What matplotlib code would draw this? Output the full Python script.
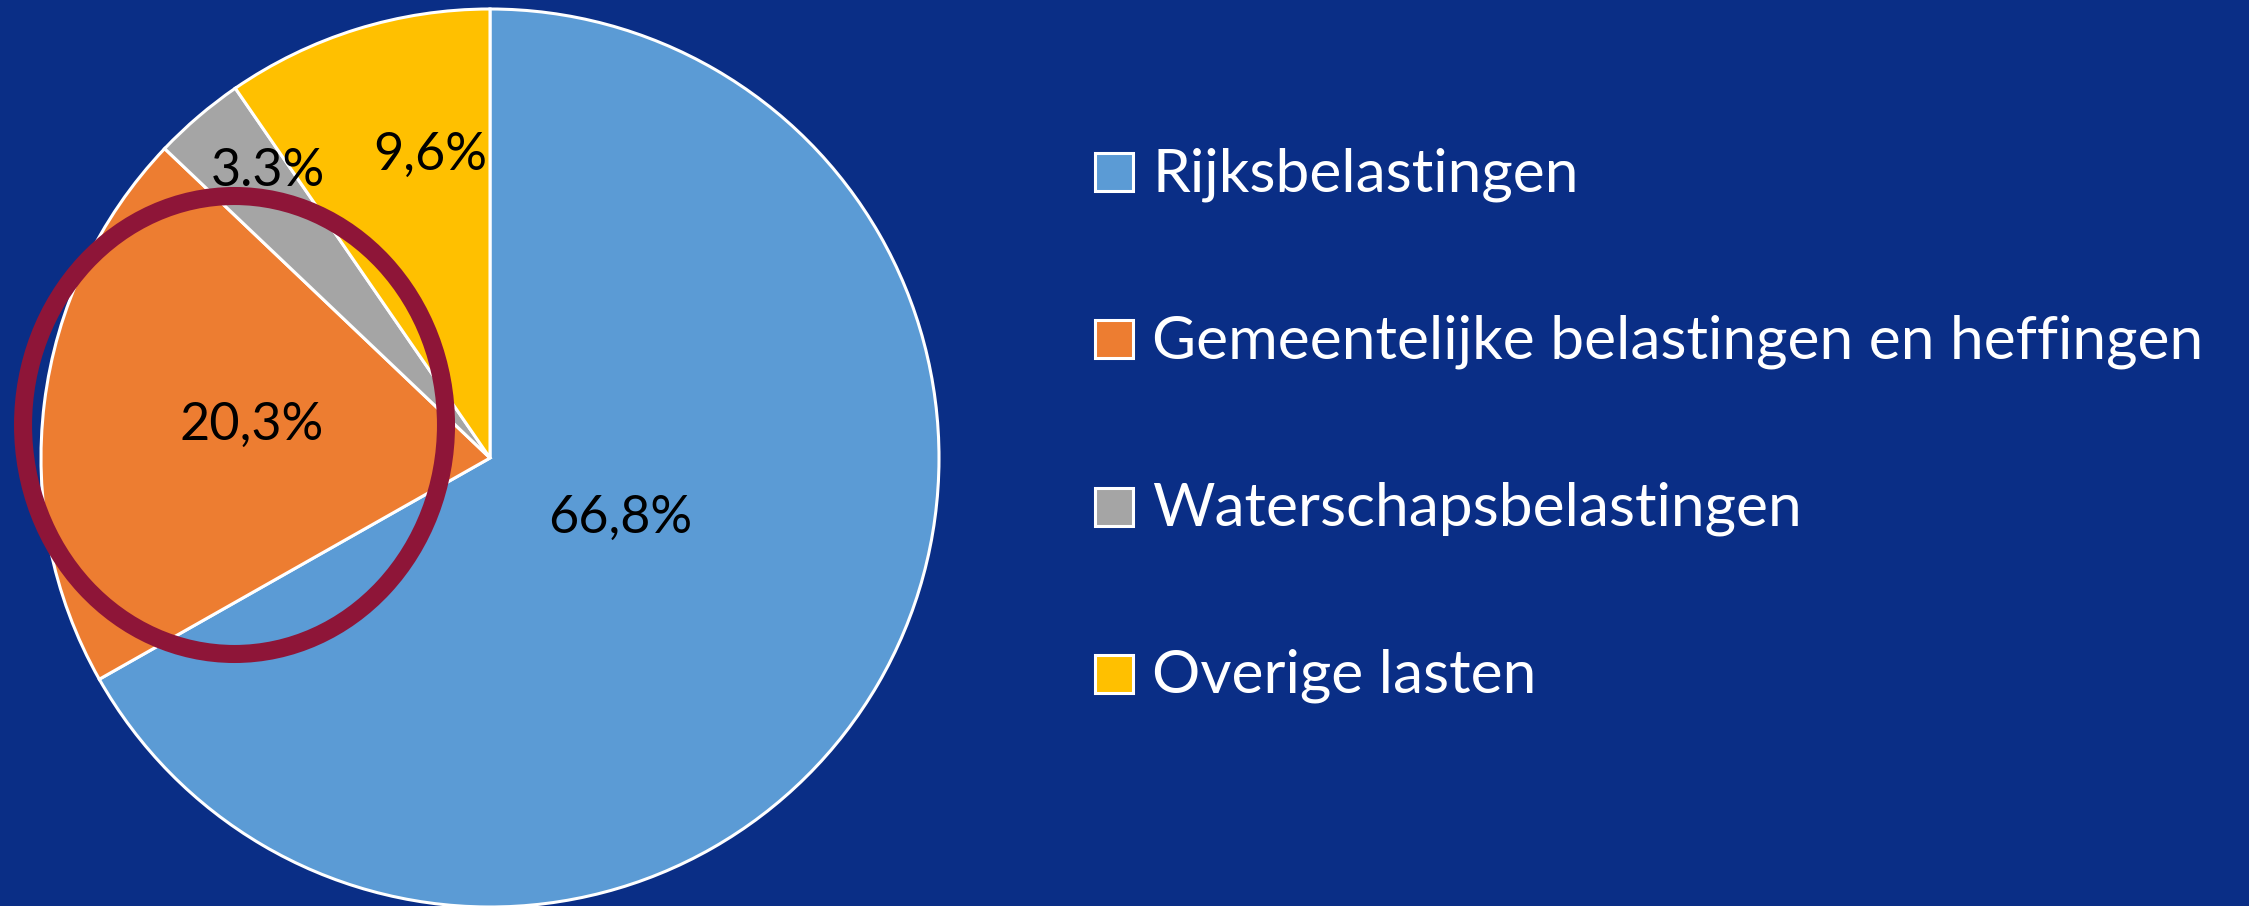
import matplotlib.pyplot as plt
import matplotlib.patches as patches

# Data
labels = ["Rijksbelastingen", "Gemeentelijke belastingen en heffingen",
          "Waterschapsbelastingen", "Overige lasten"]
values = [66.8, 20.3, 3.3, 9.6]
value_texts = ["66,8%", "20,3%", "3.3%", "9,6%"]
colors = ["#5B9BD5", "#ED7D31", "#A5A5A5", "#FFC000"]

# label positions in data coordinates (pie radius = 1)
label_pos = [(0.29, -0.135), (-0.532, 0.073), (-0.494, 0.637), (-0.134, 0.675)]

bg = "#0A2E86"
plt.rcParams['font.family'] = ['Lato', 'DejaVu Sans']

fig = plt.figure(figsize=(22.49, 9.06), dpi=100)
fig.patch.set_facecolor(bg)

W, H = 2249, 906
cx, cy, r = 490, 458, 449
ax = fig.add_axes([(cx - r) / W, (H - cy - r) / H, 2 * r / W, 2 * r / H])
ax.set_facecolor(bg)
ax.axis('off')

wedges, _ = ax.pie(values, colors=colors, startangle=90, counterclock=False,
                   radius=1, wedgeprops=dict(edgecolor='white', linewidth=2.2))
ax.set_xlim(-1, 1)
ax.set_ylim(-1, 1)
ax.set_aspect('equal')

for (x, y), t in zip(label_pos, value_texts):
    ax.text(x, y, t, ha='center', va='center', fontsize=37.5, color='black')

# highlight ring around the municipal share
ring = patches.Ellipse((-0.569, 0.0735), 0.942, 1.02, fill=False,
                       edgecolor='#8E1538', linewidth=13, clip_on=False)
ax.add_patch(ring)

# Legend, drawn by hand in figure pixels
sq = 38
for i, (lab, c) in enumerate(zip(labels, colors)):
    yc = 172 + 167.3 * i
    fig.patches.append(patches.Rectangle(
        (1095 / W, (H - yc - sq / 2) / H), sq / W, sq / H,
        facecolor=c, edgecolor='white', linewidth=2.2,
        transform=fig.transFigure, figure=fig))
    fig.text(1152 / W, (H - yc - sq / 2) / H, lab, color='white',
             fontsize=43.5, ha='left', va='baseline')

fig.savefig("out.png", dpi=100, facecolor=bg)
